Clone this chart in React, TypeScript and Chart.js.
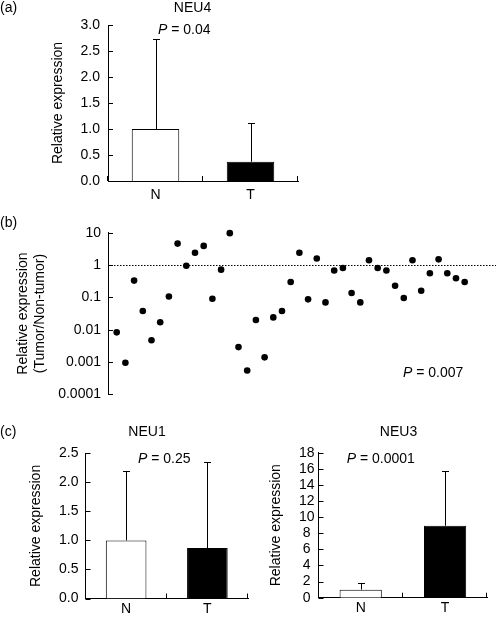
import React, { useEffect, useRef } from "react";
import { Chart, registerables } from "chart.js";

Chart.register(...registerables);

// ---------- data ----------
const groups = ["N", "T"];
const barColors = ["#ffffff", "#000000"];

const neu4Means = [1.0, 0.37];
const neu4Sd = [1.73, 0.75];
const neu4Ticks = [0, 0.5, 1.0, 1.5, 2.0, 2.5, 3.0];

const neu1Means = [1.0, 0.87];
const neu1Sd = [1.2, 1.48];
const neu1Ticks = [0, 0.5, 1.0, 1.5, 2.0, 2.5];

const neu3Means = [1.0, 8.93];
const neu3Sd = [0.8, 6.85];
const neu3Ticks = [0, 2, 4, 6, 8, 10, 12, 14, 16, 18];

const ratioSamples = [
  1, 2, 3, 4, 5, 6, 7, 8, 9, 10, 11, 12, 13, 14, 15, 16, 17, 18, 19, 20, 21,
  22, 23, 24, 25, 26, 27, 28, 29, 30, 31, 32, 33, 34, 35, 36, 37, 38, 39, 40, 41,
];
const ratioValues = [
  0.0083, 0.00095, 0.33, 0.038, 0.0047, 0.017, 0.107, 4.6, 0.95, 2.4, 3.9,
  0.091, 0.72, 9.7, 0.0029, 0.00055, 0.02, 0.0014, 0.024, 0.038, 0.3, 2.4,
  0.087, 1.6, 0.07, 0.68, 0.81, 0.137, 0.07, 1.4, 0.81, 0.68, 0.23, 0.096, 1.4,
  0.16, 0.56, 1.5, 0.56, 0.39, 0.3,
];
const logTickValues = [0.0001, 0.001, 0.01, 0.1, 1, 10];
const logTickLabels = ["0.0001", "0.001", "0.01", "0.1", "1", "10"];
const referenceRatio = 1;

const panelLabels = ["(a)", "(b)", "(c)"];
const geneTitles = ["NEU4", "NEU1", "NEU3"];
const pValues = ["0.04", "0.007", "0.25", "0.0001"];
const yTitle = "Relative expression";
const yTitleRatio = ["Relative expression", "(Tumor/Non-tumor)"];

// ---------- helpers ----------
const FAMILY = "'Liberation Sans', Arial, Helvetica, sans-serif";

type TextItem = { text: string; x: number; y: number; align?: CanvasTextAlign; size?: number; p?: boolean };

function textPlugin(items: TextItem[]) {
  return {
    id: "texts",
    afterDraw(chart: any) {
      const ctx = chart.ctx as CanvasRenderingContext2D;
      ctx.save();
      ctx.fillStyle = "#000";
      ctx.textBaseline = "middle";
      for (const it of items) {
        const size = it.size ?? 14;
        if (it.p) {
          ctx.textAlign = "left";
          ctx.font = `italic ${size}px ${FAMILY}`;
          ctx.fillText("P", it.x, it.y);
          const w = ctx.measureText("P").width;
          ctx.font = `${size}px ${FAMILY}`;
          ctx.fillText(" = " + it.text, it.x + w, it.y);
        } else {
          ctx.textAlign = it.align ?? "left";
          ctx.font = `${size}px ${FAMILY}`;
          ctx.fillText(it.text, it.x, it.y);
        }
      }
      ctx.restore();
    },
  };
}

const inwardTicks = {
  id: "inwardTicks",
  afterDraw(chart: any) {
    const ctx = chart.ctx as CanvasRenderingContext2D;
    const a = chart.chartArea;
    const y = chart.scales.y;
    ctx.save();
    ctx.strokeStyle = "#000";
    ctx.lineWidth = 1;
    ctx.beginPath();
    y.ticks.forEach((t: any) => {
      const py = Math.round(y.getPixelForValue(t.value)) + 0.5;
      ctx.moveTo(a.left, py);
      ctx.lineTo(a.left + 5, py);
    });
    const x = chart.scales.x;
    if (x && x.type === "category") {
      const n = chart.data.labels.length;
      const bounds = [a.left, a.right];
      for (let i = 0; i < n - 1; i++) {
        bounds.push((x.getPixelForValue(i) + x.getPixelForValue(i + 1)) / 2);
      }
      bounds.forEach((bx) => {
        const px = Math.round(bx) - 0.5;
        ctx.moveTo(px, a.bottom);
        ctx.lineTo(px, a.bottom - 5);
      });
    }
    ctx.stroke();
    ctx.restore();
  },
};

function errorBarPlugin(means: number[], sd: number[]) {
  return {
    id: "errorBars",
    afterDatasetsDraw(chart: any) {
      const ctx = chart.ctx as CanvasRenderingContext2D;
      const y = chart.scales.y;
      const meta = chart.getDatasetMeta(0);
      ctx.save();
      ctx.strokeStyle = "#000";
      ctx.lineWidth = 1;
      ctx.beginPath();
      meta.data.forEach((bar: any, i: number) => {
        const px = Math.round(bar.x) + 0.5;
        const y0 = y.getPixelForValue(means[i]);
        const y1 = Math.round(y.getPixelForValue(means[i] + sd[i])) + 0.5;
        ctx.moveTo(px, y0);
        ctx.lineTo(px, y1);
        ctx.moveTo(px - 3.5, y1);
        ctx.lineTo(px + 3.5, y1);
      });
      ctx.stroke();
      ctx.restore();
    },
  };
}

const dottedLine = {
  id: "dottedLine",
  beforeDatasetsDraw(chart: any) {
    const ctx = chart.ctx as CanvasRenderingContext2D;
    const a = chart.chartArea;
    const py = Math.round(chart.scales.y.getPixelForValue(referenceRatio)) + 0.5;
    ctx.save();
    ctx.strokeStyle = "#000";
    ctx.lineWidth = 1;
    ctx.setLineDash([1.5, 1.5]);
    ctx.beginPath();
    ctx.moveTo(a.left, py);
    ctx.lineTo(a.right, py);
    ctx.stroke();
    ctx.restore();
  },
};

type BarOpts = {
  means: number[];
  sd: number[];
  ticks: number[];
  decimals: number;
  padTop: number;
  padRight: number;
  yWidth: number;
  xHeight: number;
  titlePad: number;
  tickPad: number;
  tickSize: number;
  xTickPad: number;
  crossAlign?: "near" | "center" | "far";
  texts: TextItem[];
};

function barConfig(o: BarOpts): any {
  const axisBorder = { display: true, color: "#000", width: 1 };
  return {
    type: "bar",
    data: {
      labels: groups,
      datasets: [
        {
          data: o.means,
          backgroundColor: barColors,
          borderColor: "#000",
          borderWidth: 1,
          categoryPercentage: 1,
          barPercentage: 0.5,
        },
      ],
    },
    options: {
      responsive: false,
      animation: false,
      events: [],
      layout: { padding: { left: 0, top: o.padTop, right: o.padRight, bottom: 0 } },
      plugins: { legend: { display: false }, tooltip: { enabled: false }, title: { display: false } },
      scales: {
        x: {
          grid: { display: false, drawTicks: false },
          border: axisBorder,
          ticks: { color: "#000", font: { family: FAMILY, size: 14 }, padding: o.xTickPad },
          afterFit: (s: any) => {
            s.height = o.xHeight;
          },
        },
        y: {
          min: o.ticks[0],
          max: o.ticks[o.ticks.length - 1],
          afterBuildTicks: (s: any) => {
            s.ticks = o.ticks.map((v) => ({ value: v }));
          },
          grid: { display: false, drawTicks: false },
          border: axisBorder,
          ticks: {
            color: "#000",
            autoSkip: false,
            font: { family: FAMILY, size: o.tickSize },
            padding: o.tickPad,
            crossAlign: o.crossAlign ?? "near",
            callback: (v: number) => v.toFixed(o.decimals),
          },
          title: {
            display: true,
            text: yTitle,
            color: "#000",
            font: { family: FAMILY, size: 14 },
            padding: { top: o.titlePad, bottom: 0 },
          },
          afterFit: (s: any) => {
            s.width = o.yWidth;
          },
        },
      },
    },
    plugins: [errorBarPlugin(o.means, o.sd), inwardTicks, textPlugin(o.texts)],
  };
}

function scatterConfig(): any {
  return {
    type: "scatter",
    data: {
      datasets: [
        {
          data: ratioSamples.map((s, i) => ({ x: s, y: ratioValues[i] })),
          backgroundColor: "#000",
          borderColor: "#000",
          borderWidth: 0,
          pointRadius: 3.3,
          clip: false,
        },
      ],
    },
    options: {
      responsive: false,
      animation: false,
      events: [],
      layout: { padding: { left: 0, top: 27.7, right: 0, bottom: 20.6 } },
      plugins: { legend: { display: false }, tooltip: { enabled: false } },
      scales: {
        x: { type: "linear", min: 0, max: 44.6, display: false },
        y: {
          type: "logarithmic",
          min: logTickValues[0],
          max: logTickValues[logTickValues.length - 1],
          afterBuildTicks: (s: any) => {
            s.ticks = logTickValues.map((v) => ({ value: v }));
          },
          grid: { display: false, drawTicks: false },
          border: { display: true, color: "#000", width: 1 },
          ticks: {
            color: "#000",
            autoSkip: false,
            font: { family: FAMILY, size: 14 },
            padding: 7,
            callback: (_v: number, i: number) => logTickLabels[i],
          },
          title: {
            display: true,
            text: yTitleRatio,
            color: "#000",
            font: { family: FAMILY, size: 14 },
            padding: { top: 14.6, bottom: 0 },
          },
          afterFit: (s: any) => {
            s.width = 108;
          },
        },
      },
    },
    plugins: [
      dottedLine,
      inwardTicks,
      textPlugin([
        { text: panelLabels[1], x: 0, y: 18 },
        { text: pValues[1], x: 403, y: 168, p: true },
      ]),
    ],
  };
}

function Panel({ left, top, width, height, config }: { left: number; top: number; width: number; height: number; config: () => any }) {
  const ref = useRef<HTMLCanvasElement | null>(null);
  useEffect(() => {
    if (!ref.current) return;
    const chart = new Chart(ref.current, config());
    return () => chart.destroy();
  }, []);
  return (
    <canvas
      ref={ref}
      width={width}
      height={height}
      style={{ position: "absolute", left, top, width, height, display: "block" }}
    />
  );
}

export default function App() {
  return (
    <div style={{ position: "absolute", left: 0, top: 0, width: 500, height: 622, background: "#fff" }}>
      <Panel
        left={0}
        top={0}
        width={320}
        height={205}
        config={() =>
          barConfig({
            means: neu4Means,
            sd: neu4Sd,
            ticks: neu4Ticks,
            decimals: 1,
            padTop: 25,
            padRight: 22,
            yWidth: 108,
            xHeight: 24,
            titlePad: 49.6,
            tickPad: 8,
            tickSize: 14,
            xTickPad: 6,
            texts: [
              { text: panelLabels[0], x: 0, y: 8 },
              { text: geneTitles[0], x: 192.5, y: 8, align: "center" },
              { text: pValues[0], x: 158, y: 30, p: true },
            ],
          })
        }
      />
      <Panel left={0} top={205} width={500} height={210} config={scatterConfig} />
      <Panel
        left={0}
        top={415}
        width={260}
        height={207}
        config={() =>
          barConfig({
            means: neu1Means,
            sd: neu1Sd,
            ticks: neu1Ticks,
            decimals: 1,
            padTop: 38.3,
            padRight: 12,
            yWidth: 85.5,
            xHeight: 23.5,
            titlePad: 27.6,
            tickPad: 7,
            tickSize: 14,
            xTickPad: 2,
            texts: [
              { text: panelLabels[2], x: 0, y: 17 },
              { text: geneTitles[1], x: 147, y: 17, align: "center" },
              { text: pValues[2], x: 138, y: 44.5, p: true },
            ],
          })
        }
      />
      <Panel
        left={260}
        top={415}
        width={240}
        height={207}
        config={() =>
          barConfig({
            means: neu3Means,
            sd: neu3Sd,
            ticks: neu3Ticks,
            decimals: 0,
            padTop: 37.7,
            padRight: 12.7,
            yWidth: 58.5,
            xHeight: 24.3,
            titlePad: 7.6,
            tickPad: 4,
            tickSize: 14,
            xTickPad: 2,
            crossAlign: "center",
            texts: [
              { text: geneTitles[2], x: 138.5, y: 17, align: "center" },
              { text: pValues[3], x: 86.7, y: 44.5, p: true },
            ],
          })
        }
      />
    </div>
  );
}
